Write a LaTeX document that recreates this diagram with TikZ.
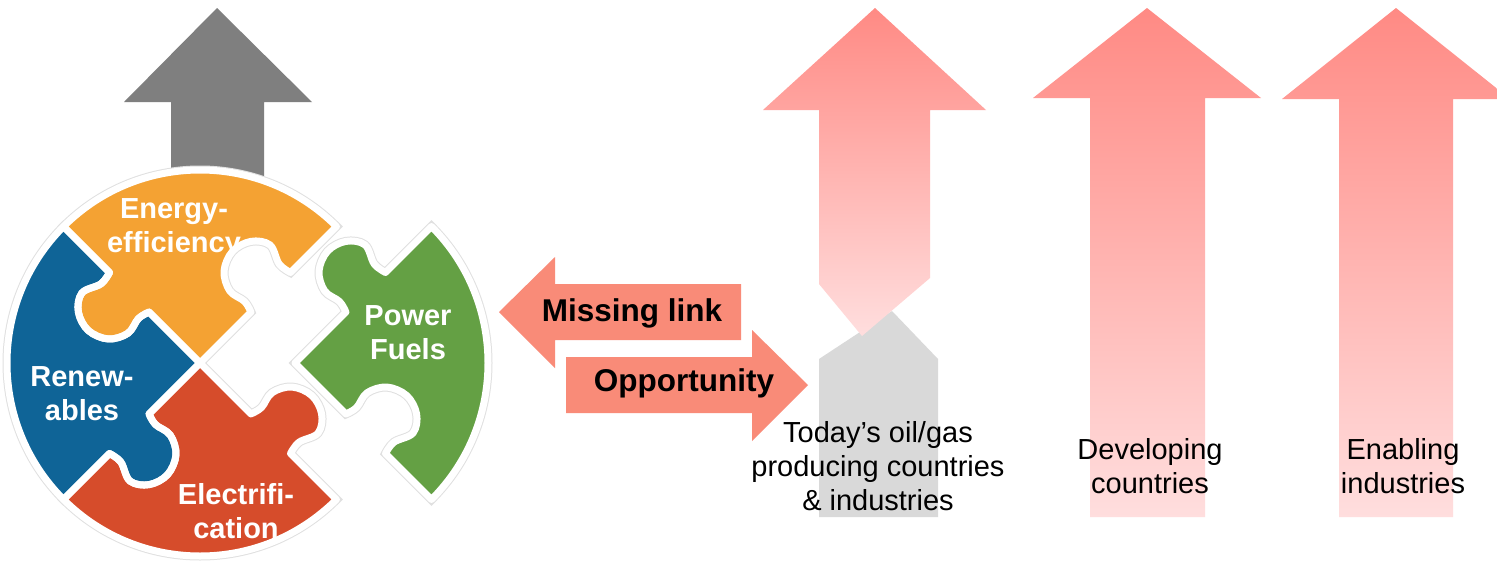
\documentclass[tikz,border=0pt]{standalone}
\usepackage{fontspec}
\setmainfont{Liberation Sans}
\definecolor{cOrange}{HTML}{F4A233}
\definecolor{cBlue}{HTML}{0F6497}
\definecolor{cRed}{HTML}{D64C2B}
\definecolor{cGreen}{HTML}{64A044}
\definecolor{cGray}{HTML}{7F7F7F}
\definecolor{cSalmon}{HTML}{F98B78}
\definecolor{cPinkTop}{HTML}{FF8A84}
\definecolor{cPinkBot}{HTML}{FFDEDE}
\definecolor{cBox}{HTML}{D9D9D9}
\newcommand{\pzpath}[4]{(#10) -- plot[smooth,tension=0.6] coordinates {(#11) (#12) (#13) (#14) (#15) (#16) (#17) (#18) (#19)} -- (#110) arc[start angle=#3,end angle=#4,radius=193] -- plot[smooth,tension=0.6] coordinates {(#29) (#28) (#27) (#26) (#25) (#24) (#23) (#22) (#21)} -- cycle}
\begin{document}
\begin{tikzpicture}[x=1pt,y=-1pt,
  wlabel/.style={text=white,font=\bfseries\fontsize{29}{34}\selectfont,align=center,inner sep=0pt},
  blabel/.style={text=black,font=\bfseries\fontsize{31.5}{36}\selectfont,inner sep=0pt},
  rlabel/.style={text=black,font=\fontsize{29}{34}\selectfont,align=center,inner sep=0pt},
  pinkarrow/.style={top color=cPinkTop,bottom color=cPinkBot,draw=none},
  flatarrow/.style={fill=cSalmon,draw=none}]
\fill[white] (0,0) rectangle (1497,563);
\clip (0,0) rectangle (1497,563);
\useasboundingbox (0,0) rectangle (1497,563);

% grey up arrow behind the puzzle
\fill[cGray] (171,178) -- (171,102) -- (124,102) -- (217,8) -- (312,102) -- (264,102) -- (264,178) -- cycle;

% knob coordinates
\foreach \a/\n/\cx in {45/ne/200,135/nw/200,225/sw/200,315/se/200,45/gne/295,315/gse/295}{
  \begin{scope}[x=1pt,y=1pt,shift={(\cx,-363)},rotate=\a]
    \coordinate (\n0) at (0,0);
    \coordinate (\n1) at (72,0);
    \coordinate (\n2) at (75,12);
    \coordinate (\n3) at (72,30);
    \coordinate (\n4) at (82,48);
    \coordinate (\n5) at (102,56);
    \coordinate (\n6) at (122,50);
    \coordinate (\n7) at (133,34);
    \coordinate (\n8) at (126,14);
    \coordinate (\n9) at (128,0);
    \coordinate (\n10) at (193,0);
  \end{scope}
}

\begin{scope}[x=1pt,y=1pt]
  \foreach \p/\q/\s/\e in {ne/nw/45/135,nw/sw/135/225,sw/se/225/315,gse/gne/-45/45}{
    \draw[black!12,line width=9pt] \pzpath{\p}{\q}{\s}{\e};
  }
  \fill[cOrange] \pzpath{ne}{nw}{45}{135};
  \fill[cBlue] \pzpath{nw}{sw}{135}{225};
  \fill[cRed] \pzpath{sw}{se}{225}{315};
  \fill[cGreen] \pzpath{gse}{gne}{-45}{45};
  \foreach \p/\q/\s/\e in {ne/nw/45/135,nw/sw/135/225,sw/se/225/315,gse/gne/-45/45}{
    \draw[white,line width=7pt,line join=round] \pzpath{\p}{\q}{\s}{\e};
  }
\end{scope}

\node[wlabel] (ee) at (174,229) {Energy-\\efficiency};
\node[wlabel] (rn) at (82,394) {Renew-\\ables};
\node[wlabel] (el) at (236,511) {Electrifi-\\cation};
\node[wlabel] (pf) at (408,333) {Power\\Fuels};

% missing link / opportunity arrows
\fill[flatarrow] (741,284) -- (555,284) -- (555,257) -- (499,312) -- (555,368) -- (555,340) -- (741,340) -- cycle;
\fill[flatarrow] (566,357) -- (752,357) -- (752,330) -- (808,385) -- (752,441) -- (752,413) -- (566,413) -- cycle;
\node[blabel] (ml) at (632,313) {Missing link};
\node[blabel] (op) at (684,383) {Opportunity};

% right hand arrows
\fill[cBox] (819,517) -- (819,359) -- (892,311) -- (938,359) -- (938,517) -- cycle;
\shade[pinkarrow] (819,284) -- (819,110) -- (763,110) -- (875,8) -- (986,110) -- (930,110) -- (930,278) -- (862,336) -- cycle;
\shade[pinkarrow] (1090,517) -- (1090,98) -- (1033,98) -- (1147,8) -- (1261,98) -- (1205,98) -- (1205,517) -- cycle;
\shade[pinkarrow] (1339,517) -- (1339,99) -- (1282,99) -- (1396,8) -- (1510,99) -- (1453,99) -- (1453,517) -- cycle;

\node[rlabel] (og) at (878,466) {Today’s oil/gas\\producing countries\\\& industries};
\node[rlabel] (dc) at (1150,466) {Developing\\countries};
\node[rlabel] (ei) at (1403,466) {Enabling\\industries};
\end{tikzpicture}
\end{document}
